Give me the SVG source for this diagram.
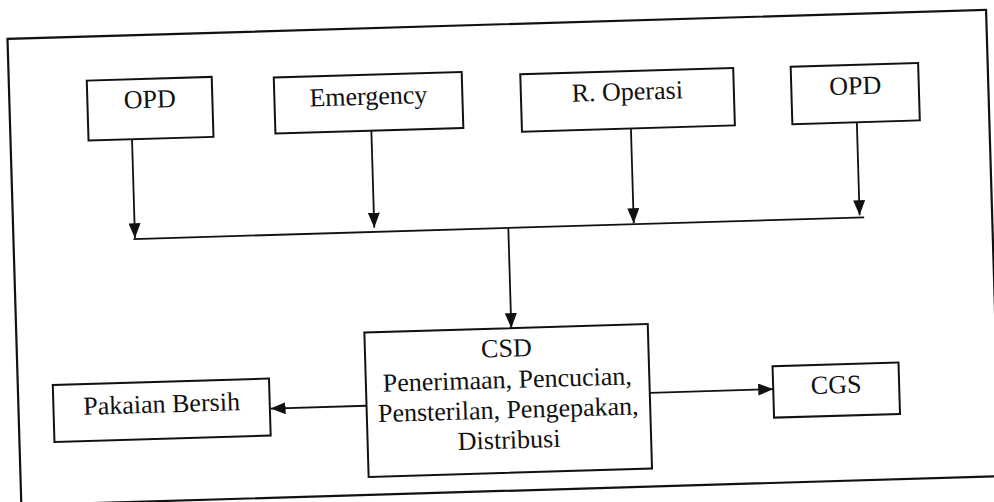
<svg xmlns="http://www.w3.org/2000/svg" width="994" height="502" viewBox="0 0 994 502">
  <defs>
    <style>
      .box { fill: #fff; stroke: #111; stroke-width: 2; }
      .frame { fill: none; stroke: #111; stroke-width: 2.2; }
      .lbl { font-size: 26px; fill: #111; text-anchor: middle; }
      .wire { fill: none; stroke: #111; stroke-width: 1.8; }
    </style>
    <marker id="arrow" viewBox="0 0 15 12" refX="15" refY="6" markerWidth="15" markerHeight="12" markerUnits="userSpaceOnUse" orient="auto">
      <path d="M0,0 L15,6 L0,12 z" fill="#111"/>
    </marker>
  </defs>
  <rect width="994" height="502" fill="#fff"/>
  <!-- whole sheet is slightly tilted -->
  <g transform="rotate(-1.7 497 251)" font-family="'Liberation Serif', 'DejaVu Serif', serif">
    <rect class="frame" x="14" y="24.5" width="979" height="466.5"/>

    <g id="connectors">
      <path class="wire" d="M135.5,128.5 V227.5" marker-end="url(#arrow)"/>
      <path class="wire" d="M375,127 V224" marker-end="url(#arrow)"/>
      <path class="wire" d="M634.5,132.5 V227.3" marker-end="url(#arrow)"/>
      <path class="wire" d="M860.5,133 V226" marker-end="url(#arrow)"/>
      <path class="wire" d="M134,228.3 H865"/>
      <path class="wire" d="M509,228.3 V328.5" marker-end="url(#arrow)"/>
      <path class="wire" d="M362,401.8 H266" marker-end="url(#arrow)"/>
      <path class="wire" d="M645.5,397.3 H769" marker-end="url(#arrow)"/>
    </g>

    <g id="opd-1">
      <rect class="box" x="92" y="68.5" width="125" height="60"/>
      <text class="lbl" x="154.5" y="97.5">OPD</text>
    </g>
    <g id="emergency">
      <rect class="box" x="279" y="71" width="188" height="56"/>
      <text class="lbl" x="373" y="101">Emergency</text>
    </g>
    <g id="r-operasi">
      <rect class="box" x="525.5" y="75" width="213" height="57.5"/>
      <text class="lbl" x="632" y="104">R. Operasi</text>
    </g>
    <g id="opd-2">
      <rect class="box" x="796" y="75.5" width="127.5" height="57.5"/>
      <text class="lbl" x="860" y="105">OPD</text>
    </g>
    <g id="csd">
      <rect class="box" x="362" y="328.5" width="283.5" height="144.5"/>
      <text class="lbl" x="503.5" y="357">CSD</text>
      <text class="lbl" x="503.5" y="388.3">Penerimaan, Pencucian,</text>
      <text class="lbl" x="503.5" y="418.5">Pensterilan, Pengepakan,</text>
      <text class="lbl" x="503.5" y="448.7">Distribusi</text>
    </g>
    <g id="pakaian-bersih">
      <rect class="box" x="49" y="371.7" width="216.3" height="57"/>
      <text class="lbl" x="157.2" y="402.5">Pakaian Bersih</text>
    </g>
    <g id="cgs">
      <rect class="box" x="769" y="374.4" width="126" height="51.4"/>
      <text class="lbl" x="832" y="403.3">CGS</text>
    </g>
  </g>
</svg>
